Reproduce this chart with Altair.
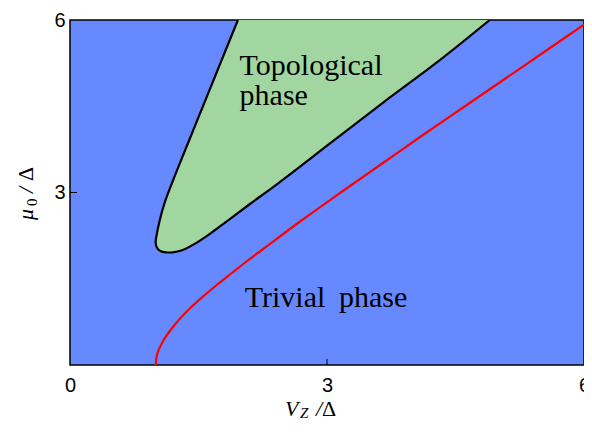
import altair as alt
import pandas as pd

# Topological phase boundary, path order
boundary_x = [1.96, 1.824, 1.688, 1.552, 1.416, 1.307, 1.20, 1.10, 1.045, 1.01, 1.00, 1.02,
              1.06, 1.12, 1.20, 1.30, 1.47, 1.66, 1.85, 2.10, 2.43, 3.05, 3.67, 4.29, 4.90]
boundary_y = [6.00, 5.50, 5.00, 4.50, 4.00, 3.60, 3.20, 2.80, 2.50, 2.25, 2.12, 2.03,
              1.98, 1.96, 1.96, 1.99, 2.12, 2.31, 2.52, 2.80, 3.16, 3.87, 4.58, 5.27, 6.00]

# Red curve
red_x = [1.00, 1.02, 1.08, 1.17, 1.28, 1.41, 1.56, 1.72, 1.89, 2.06, 2.24, 2.69, 3.16,
         3.64, 4.12, 4.61, 5.10, 5.59, 6.00]
red_y = [0.00, 0.20, 0.40, 0.60, 0.80, 1.00, 1.20, 1.40, 1.60, 1.80, 2.00, 2.50, 3.00,
         3.50, 4.00, 4.50, 5.00, 5.50, 5.92]

x_ticks = [0, 3, 6]
y_ticks = [3, 6]
inner_ticks = [3]

labels_text = ["Topological", "phase", "Trivial", "phase"]
labels_x = [1.98, 1.98, 2.04, 3.14]
labels_y = [5.04, 4.52, 1.01, 1.01]

BLUE = "#6689ff"
GREEN = "#a1d6a1"
W, H = 514, 345

bdf = pd.DataFrame({"x": boundary_x, "y": boundary_y, "i": list(range(len(boundary_x)))})
rdf = pd.DataFrame({"x": red_x, "y": red_y, "i": list(range(len(red_x)))})
ldf = pd.DataFrame({"t": labels_text, "x": labels_x, "y": labels_y})
tdf = pd.DataFrame({"v": inner_ticks})

xs = alt.Scale(domain=[0, 6], nice=False, zero=False)
ys = alt.Scale(domain=[0, 6], nice=False, zero=False)

xax = alt.Axis(values=x_ticks, format="d", ticks=False, grid=False, domain=False,
               labelFontSize=20, labelFont="Liberation Sans", labelColor="black",
               labelPadding=10, labelFlush=False, labelOverlap=False, title=None)
yax = alt.Axis(values=y_ticks, format="d", ticks=False, grid=False, domain=False,
               labelFontSize=20, labelFont="Liberation Sans", labelColor="black",
               labelPadding=5, labelFlush=False, labelOverlap=False, title=None)

poly = alt.Chart(bdf).mark_line(fill=GREEN, stroke="black", strokeWidth=2.2, clip=True,
                                interpolate="catmull-rom").encode(
    x=alt.X("x:Q", scale=xs, axis=xax),
    y=alt.Y("y:Q", scale=ys, axis=yax),
    order="i:Q",
)

red = alt.Chart(rdf).mark_line(color="#ff0000", strokeWidth=2.2, clip=True,
                               interpolate="catmull-rom").encode(
    x=alt.X("x:Q", scale=xs),
    y=alt.Y("y:Q", scale=ys),
    order="i:Q",
)

xtick = alt.Chart(tdf).mark_rule(color="black", strokeWidth=1).encode(
    x=alt.X("v:Q", scale=xs), y=alt.value(H), y2=alt.value(H - 6)
)
ytick = alt.Chart(tdf).mark_rule(color="black", strokeWidth=1).encode(
    y=alt.Y("v:Q", scale=ys), x=alt.value(0), x2=alt.value(7)
)

labels = alt.Chart(ldf).mark_text(font="Liberation Serif", fontSize=30, align="left",
                                  baseline="alphabetic", color="black").encode(
    x=alt.X("x:Q", scale=xs), y=alt.Y("y:Q", scale=ys), text="t:N"
)


def t(txt, x, y, size, italic=False, angle=0):
    kw = dict(font="Liberation Serif", fontSize=size, align="left", baseline="alphabetic",
              color="black", angle=angle)
    if italic:
        kw["fontStyle"] = "italic"
    return alt.Chart(tdf).mark_text(**kw).encode(
        x=alt.value(x), y=alt.value(y), text=alt.value(txt))


xtitle = [t("V", 215, 396, 22, True), t("Z", 230, 398, 15, True),
          t("/", 246, 396, 22, True), t("Δ", 252, 396, 22)]
ytitle = [t("μ", -37, 200, 22, True, 270), t("0", -33, 186, 15, False, 270),
          t("/", -37, 173, 22, True, 270), t("Δ", -37, 161, 22, False, 270)]

chart = alt.layer(poly, red, xtick, ytick, labels, *xtitle, *ytitle).properties(
    width=W, height=H,
    autosize=alt.AutoSizeParams(type="none"),
    padding={"left": 62, "top": 12, "right": 0, "bottom": 59},
).configure_view(fill=BLUE, stroke="black", strokeWidth=1.5)

chart.save("out.html", embed_options={"renderer": "svg", "actions": False})
